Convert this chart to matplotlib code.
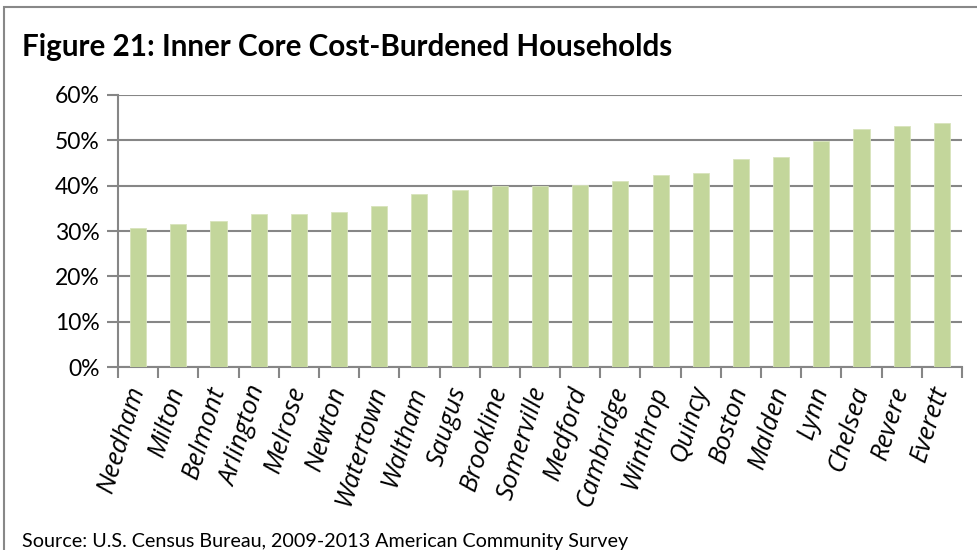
import matplotlib
matplotlib.use("Agg")
import matplotlib.pyplot as plt
from matplotlib.patches import Rectangle
from matplotlib.ticker import FuncFormatter, FixedLocator

towns = ["Needham", "Milton", "Belmont", "Arlington", "Melrose", "Newton", "Watertown",
         "Waltham", "Saugus", "Brookline", "Somerville", "Medford", "Cambridge", "Winthrop",
         "Quincy", "Boston", "Malden", "Lynn", "Chelsea", "Revere", "Everett"]
share = [30.6, 31.5, 32.3, 33.7, 33.7, 34.1, 35.4, 38.1, 39.0, 39.8, 39.8, 40.2, 41.1, 42.4,
         42.8, 45.9, 46.3, 49.8, 52.4, 53.2, 53.7]
yticks = [0, 10, 20, 30, 40, 50, 60]

title = "Figure 21: Inner Core Cost-Burdened Households"
source = "Source: U.S. Census Bureau, 2009-2013 American Community Survey"

plt.rcParams['font.family'] = ['Lato', 'DejaVu Sans']

fig = plt.figure(figsize=(9.77, 5.5), dpi=100)
ax = fig.add_axes([118/977, 1-367.3/550, (962-118)/977, (367.3-94.7)/550])

x = list(range(len(towns)))
ax.bar(x, share, width=0.4, color="#C3D69B", edgecolor="#D8E4BC", linewidth=0.6, zorder=3)

ax.set_xlim(-0.5, len(towns)-0.5)
ax.set_ylim(0, 60)
ax.set_yticks(yticks)
ax.yaxis.set_major_formatter(FuncFormatter(lambda v, p: f"{int(v)}%"))
gray = "#868686"
ax.grid(axis='y', color=gray, linewidth=1.5, zorder=0)

for s in ["top", "right"]:
    ax.spines[s].set_visible(False)
ax.spines["left"].set_color(gray)
ax.spines["bottom"].set_color(gray)
ax.spines["left"].set_linewidth(1.5)
ax.spines["bottom"].set_linewidth(1.5)

ax.set_xticks(x)
ax.set_xticklabels(towns, rotation=73, ha='right', va='center', rotation_mode='anchor',
                   fontsize=18.5, style='italic', family=['Open Sans', 'DejaVu Sans'])
ax.tick_params(axis='x', length=0, pad=14)
ax.xaxis.set_minor_locator(FixedLocator([i - 0.5 for i in range(len(towns)+1)]))
ax.tick_params(axis='x', which='minor', length=8, color=gray, width=1.5, direction='out')
ax.tick_params(axis='y', length=8, color=gray, width=1.5, labelsize=16.5, pad=5)

fig.text(22/977, 1-47/550, title, fontsize=21.3, fontweight='bold', ha='left', va='center')
fig.text(22/977, 1-541/550, source, fontsize=14.2, ha='left', va='center')

fig.add_artist(Rectangle((4/977, -0.05), 1.0, 1-7/550+0.05, transform=fig.transFigure,
                         fill=False, edgecolor="#888888", linewidth=1.5))

fig.savefig("out.png", dpi=100)
